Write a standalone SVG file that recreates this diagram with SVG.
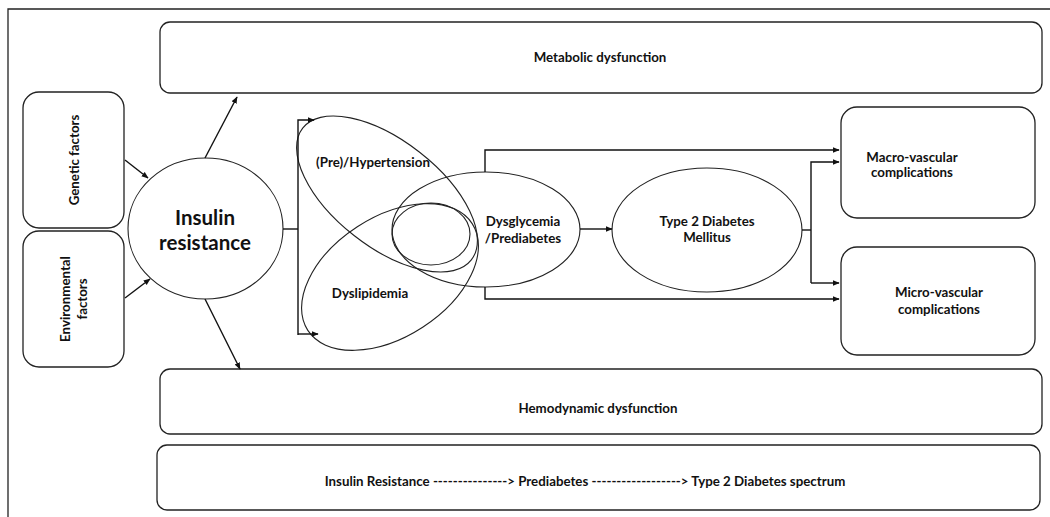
<svg xmlns="http://www.w3.org/2000/svg" width="1050" height="517" viewBox="0 0 1050 517">
<style>
.box{fill:#fff;stroke:#222;stroke-width:1.3}
.ell{fill:none;stroke:#222;stroke-width:1.1}
.t{font-family:Lato,"Liberation Sans",sans-serif;font-weight:bold;font-size:13.3px;fill:#111;text-anchor:middle}
.big{font-size:20.5px}
.c{fill:none;stroke:#111;stroke-width:1.4}
</style>
<defs>
<marker id="ah" viewBox="0 0 10 10" refX="9" refY="5" markerWidth="7" markerHeight="7" markerUnits="userSpaceOnUse" orient="auto">
<path d="M0,1 L10,5 L0,9 z" fill="#111"/>
</marker>
</defs>
<rect width="1050" height="517" fill="#fff"/>
<g id="frame"><path d="M8,517 V9 H1050" fill="none" stroke="#222" stroke-width="1.3"/></g>

<g id="metabolic"><rect class="box" x="160" y="22" width="882" height="71" rx="10"/><text class="t" x="600" y="62">Metabolic dysfunction</text></g>
<g id="hemodynamic"><rect class="box" x="160" y="369" width="882" height="65" rx="10"/><text class="t" x="598" y="413">Hemodynamic dysfunction</text></g>
<g id="spectrum"><rect class="box" x="157" y="445" width="883" height="65" rx="10"/><text class="t" x="585" y="486">Insulin Resistance ---------------&gt; Prediabetes ------------------&gt; Type 2 Diabetes spectrum</text></g>

<g id="genetic"><rect class="box" x="23" y="92" width="101" height="136" rx="16"/><text class="t" transform="translate(79,160) rotate(-90)">Genetic factors</text></g>
<g id="environmental"><rect class="box" x="23" y="231" width="101" height="136" rx="16"/><text class="t" transform="translate(70,299) rotate(-90)">Environmental</text><text class="t" transform="translate(87,299) rotate(-90)">factors</text></g>

<g id="insulin"><ellipse class="ell" cx="205.5" cy="228.5" rx="77.5" ry="70.5"/><text class="t big" x="205" y="225">Insulin</text><text class="t big" x="205" y="250">resistance</text></g>

<g id="hypertension"><ellipse class="ell" cx="387" cy="194" rx="107" ry="53" transform="rotate(38 387 194)"/><text class="t" x="373" y="167">(Pre)/Hypertension</text></g>
<g id="dyslipidemia"><ellipse class="ell" cx="390" cy="277" rx="98" ry="60" transform="rotate(-33 390 277)"/><text class="t" x="370" y="298">Dyslipidemia</text></g>
<g id="dysglycemia"><ellipse class="ell" cx="486" cy="229.5" rx="94" ry="57.5"/><text class="t" x="523" y="226">Dysglycemia</text><text class="t" x="523" y="243">/Prediabetes</text></g>
<g id="overlap"><ellipse class="ell" cx="431" cy="234" rx="39" ry="31"/></g>

<g id="t2dm"><ellipse class="ell" cx="707" cy="230" rx="95" ry="62"/><text class="t" x="707" y="226">Type 2 Diabetes</text><text class="t" x="707" y="242">Mellitus</text></g>

<g id="macro"><rect class="box" x="841" y="107" width="194" height="111" rx="16"/><text class="t" x="912" y="162">Macro-vascular</text><text class="t" x="912" y="177">complications</text></g>
<g id="micro"><rect class="box" x="841" y="247" width="194" height="108" rx="16"/><text class="t" x="939" y="297">Micro-vascular</text><text class="t" x="939" y="314">complications</text></g>

<g id="connectors">
<path class="c" d="M125,160 L148,178" marker-end="url(#ah)"/>
<path class="c" d="M125,298 L150,279" marker-end="url(#ah)"/>
<path class="c" d="M205,158 L237,97" marker-end="url(#ah)"/>
<path class="c" d="M205,299 L240,369" marker-end="url(#ah)"/>
<path class="c" d="M283,229 H298"/>
<path class="c" d="M298,335 V120 H314" marker-end="url(#ah)"/>
<path class="c" d="M298,334 H318" marker-end="url(#ah)"/>
<path class="c" d="M485,172 V150 H839" marker-end="url(#ah)"/>
<path class="c" d="M485,287 V299 H839" marker-end="url(#ah)"/>
<path class="c" d="M580,229 H612" marker-end="url(#ah)"/>
<path class="c" d="M802,230 H811"/>
<path class="c" d="M811,283 V162 H839" marker-end="url(#ah)"/>
<path class="c" d="M811,283 H839" marker-end="url(#ah)"/>
</g>
</svg>
